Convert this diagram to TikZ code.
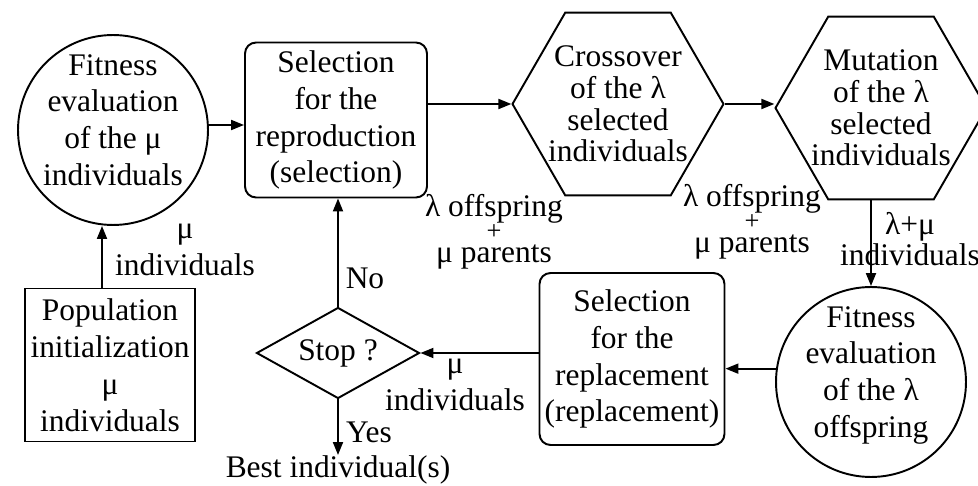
\documentclass[tikz,border=0pt]{standalone}
\usepackage{fontspec}
\setmainfont{Liberation Serif}
\usetikzlibrary{shapes.geometric,arrows.meta}
\begin{document}
\begin{tikzpicture}[x=0.02cm,y=-0.02cm,
    font=\fontsize{17.9}{21}\selectfont,
    every node/.style={align=center},
    evalnode/.style={shape=circle,draw=black,line width=1.1pt,minimum size=3.8cm,inner sep=-4.5pt,text depth=0.4cm},
    selbox/.style={shape=rectangle,rounded corners=0.22cm,draw=black,line width=1.1pt,inner sep=1pt},
    hexnode/.style={shape=regular polygon,regular polygon sides=6,draw=black,line width=1.1pt,minimum size=4.2cm,inner sep=-3pt,font=\fontsize{17.9}{18}\selectfont},
    stopnode/.style={shape=diamond,draw=black,line width=1.1pt,minimum width=3.26cm,minimum height=1.82cm,aspect=1.8,inner sep=0pt},
    initbox/.style={shape=rectangle,draw=black,line width=1.1pt,minimum width=3.4cm,minimum height=3.06cm,inner sep=1pt},
    lbl/.style={inner sep=0pt},
    link/.style={line width=1.1pt,-{Triangle[length=0.26cm,width=0.2cm]}}]
    \useasboundingbox (0,0) rectangle (978,486);

    % insert nodes
    \node[evalnode] (fitmu) at (113,130) {Fitness\\evaluation\\of the μ\\individuals};
    \node[selbox,minimum width=3.64cm,minimum height=3.1cm] (selrep) at (336,120) {Selection\\for the\\reproduction\\(selection)};
    \node[hexnode] (cross) at (618,104) {Crossover\\of the λ\\selected\\individuals};
    \node[hexnode] (mut) at (881,108) {Mutation\\of the λ\\selected\\individuals};
    \node[evalnode] (fitlam) at (871,382) {Fitness\\evaluation\\of the λ\\offspring};
    \node[selbox,minimum width=3.7cm,minimum height=3.44cm] (selrepl) at (632,359) {Selection\\for the\\replacement\\(replacement)};
    \node[stopnode] (stop) at (338,353) {Stop ?};
    \node[initbox] (pop) at (110,365) {Population\\initialization\\μ\\individuals};
    \node[lbl,anchor=north] (best) at (338,455) {Best individual(s)};

    % insert labels
    \node[lbl] (lblpop) at (185,250) {μ\\individuals};
    \node[lbl] (lbloffa) at (494,232) {λ offspring\\[-8pt]{\fontsize{15}{15}\selectfont +}\\[-8pt]μ parents};
    \node[lbl] (lbloffb) at (752,222) {λ offspring\\[-8pt]{\fontsize{15}{15}\selectfont +}\\[-8pt]μ parents};
    \node[lbl] (lblsum) at (910,239) {λ+μ\\[-3pt]individuals};
    \node[lbl] (lblno) at (365,278) {No};
    \node[lbl] (lblsel) at (455,385) {μ\\individuals};
    \node[lbl] (lblyes) at (369,432) {Yes};

    % insert links
    \draw[link] ([xshift=-0.16cm]pop.north) -- ([xshift=-0.16cm]pop.north |- fitmu.south);
    \draw[link] (fitmu.east |- 0,125) -- (selrep.west |- 0,125);
    \draw[link] (cross.west -| selrep.east) -- (cross.west);
    \draw[link] (cross.east) -- (cross.east -| mut.west);
    \draw[link] (mut.south -| fitlam.north) -- (fitlam.north);
    \draw[link] (fitlam.172) -- (fitlam.172 -| selrepl.east);
    \draw[link] (stop.east -| selrepl.west) -- (stop.east);
    \draw[link] (stop.north) -- (stop.north |- selrep.south);
    \draw[link] (stop.south) -- (best.north);
\end{tikzpicture}
\end{document}
